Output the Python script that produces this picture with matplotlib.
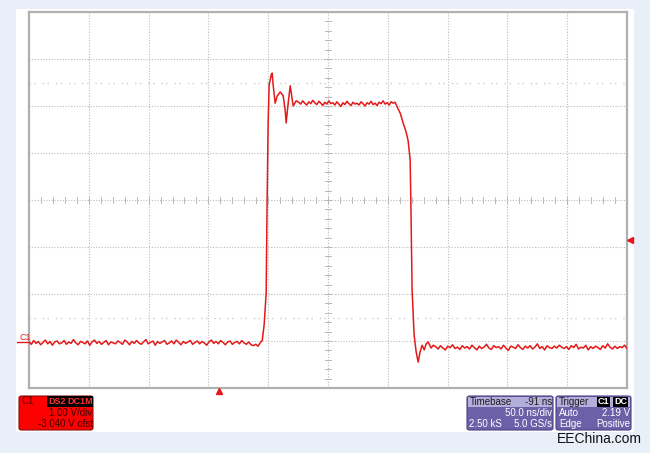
import numpy as np
import matplotlib.pyplot as plt
from matplotlib.patches import Rectangle, FancyBboxPatch
from matplotlib.lines import Line2D

W, H = 650, 453

# scope settings shown on screen
volts_per_div = 1.00
offset_v = -3.040
ns_per_div = 50.0
delay_ns = -91.0
trig_level = 2.19
n_samples = "2.50 kS"
sample_rate = "5.0 GS/s"

# trace (ns relative to trigger, volts)
base_left_v = [0.02, -0.03, 0.05, -0.01, 0.03, -0.04, 0.01, 0.06, -0.02, 0.03,
               -0.05, 0.02, 0.04, -0.02, 0.00, 0.05, -0.03, 0.02, -0.01, 0.07,
               0.00, -0.04, 0.03, 0.01, -0.02, 0.04, -0.05, 0.02, 0.06, -0.01,
               0.03, -0.03, 0.01, 0.05, -0.04, 0.02, 0.00, -0.02, 0.04, 0.01,
               -0.03, 0.06, 0.02, -0.04, 0.03, -0.01, 0.05, 0.00, -0.03, 0.02,
               0.07, -0.02, 0.01, 0.04, -0.05, 0.03, -0.01, 0.02, 0.05, -0.03,
               0.00, 0.04, -0.02, 0.06, 0.01, -0.04, 0.03, -0.01, 0.02, 0.05,
               -0.03, 0.01, 0.04, -0.02, 0.03, 0.00, -0.05, 0.02, 0.06, -0.01,
               0.03, -0.02, 0.05, 0.01, -0.04, 0.02, 0.04, -0.03, 0.01, 0.03,
               -0.02, 0.05, 0.00, -0.03, 0.02, -0.04, -0.06, -0.03, -0.07, 0.01]
rise_t = [36.0, 37.6, 39.3, 40.1, 41.0, 41.8, 43.5, 44.3, 45.1, 46.8, 48.5, 51.0, 53.5, 55.2,
          56.0, 57.7, 59.4, 61.0, 61.9, 64.4]
rise_v = [0.05, 0.38, 1.06, 3.04, 4.74, 5.49, 5.70, 5.74, 5.50, 5.10, 5.25, 5.34, 5.26, 4.95,
          4.68, 5.10, 5.47, 5.20, 5.04, 5.15]
top_v = [5.12, 5.08, 5.15, 5.10, 5.06, 5.13, 5.09, 5.16, 5.11, 5.07,
         5.14, 5.10, 5.05, 5.12, 5.08, 5.15, 5.09, 5.11, 5.06, 5.13,
         5.08, 5.03, 5.11, 5.07, 5.14, 5.09, 5.05, 5.12, 5.08, 5.10,
         5.06, 5.13, 5.09, 5.04, 5.11, 5.08, 5.14, 5.07, 5.10, 5.05,
         5.12, 5.09, 5.15, 5.08, 5.11, 5.06, 5.13, 5.10]
fall_t = [147.1, 149.6, 151.5, 153.8, 156.3, 158.0, 159.7, 160.5, 161.3, 163.0, 164.7, 166.4,
          168.0, 169.7, 171.4, 173.1, 174.7, 177.2, 179.0]
fall_v = [5.12, 4.98, 4.88, 4.68, 4.49, 4.30, 3.89, 2.61, 1.13, 0.17, -0.19, -0.41,
          -0.19, -0.05, -0.15, -0.02, 0.02, -0.11, -0.05]
base_right_v = [-0.08, -0.13, -0.06, -0.11, -0.15, -0.07, -0.10, -0.04, -0.12, -0.09,
                -0.14, -0.06, -0.11, -0.08, -0.13, -0.05, -0.10, -0.15, -0.07, -0.12,
                -0.09, -0.03, -0.11, -0.14, -0.06, -0.10, -0.08, -0.13, -0.05, -0.11,
                -0.16, -0.07, -0.09, -0.12, -0.04, -0.10, -0.14, -0.07, -0.11, -0.06,
                -0.13, -0.09, -0.02, -0.12, -0.08, -0.15, -0.06, -0.10, -0.12, -0.07,
                -0.11, -0.05, -0.09, -0.12, -0.08, -0.14, -0.06, -0.10, -0.03, -0.13,
                -0.09, -0.11, -0.05, -0.15, -0.08, -0.12, -0.07, -0.10, -0.14, -0.06,
                -0.11, -0.02, -0.09, -0.13, -0.07, -0.12, -0.08, -0.10, -0.05, -0.12]

base_left_t = np.linspace(-159, 34.5, len(base_left_v))
top_t = np.linspace(66.5, 145.5, len(top_v))
base_right_t = np.linspace(181, 341, len(base_right_v))

t = np.concatenate([base_left_t, rise_t, top_t, fall_t, base_right_t])
v = np.concatenate([base_left_v, rise_v, top_v, fall_v, base_right_v])


def fx(x):
    return x / W


def fy(y):
    return 1 - y / H


plt.rcParams['font.family'] = ['Liberation Sans', 'DejaVu Sans']

fig = plt.figure(figsize=(6.5, 4.53), dpi=100, facecolor='#e9eff9')
fig.add_artist(Rectangle((fx(16), fy(432)), 618 / W, 423 / H, transform=fig.transFigure,
                         facecolor='white', edgecolor='none', zorder=0))

ax = fig.add_axes([fx(29), fy(388), 598 / W, 376 / H])
xc = -delay_ns
yc = -offset_v
x0, x1 = xc - 5 * ns_per_div, xc + 5 * ns_per_div
y0, y1 = yc - 4 * volts_per_div, yc + 4 * volts_per_div
ax.set_xlim(x0, x1)
ax.set_ylim(y0, y1)
ax.set_xticks([])
ax.set_yticks([])
for s in ax.spines.values():
    s.set_color('#b0b0b0')
    s.set_linewidth(1.6)

grid_kw = dict(color='#bcbcbc', ls=(0, (1, 1.5)), lw=0.8, zorder=1)
for k in range(1, 10):
    ax.axvline(x0 + k * ns_per_div, **grid_kw)
for k in range(1, 8):
    ax.axhline(y0 + k * volts_per_div, **grid_kw)
# half division cursor rows
for k in [1.5, 6.5]:
    ax.axhline(y0 + k * volts_per_div, color='#cccccc', ls=(0, (1, 2.5, 1, 5)), lw=1.0, zorder=1)

# minor ticks on the centre cross
dv = 3 / 47 * volts_per_div
dt = 3 / 59.8 * ns_per_div
for k in range(-25, 26):
    tt = xc + k * ns_per_div / 5
    ax.plot([tt, tt], [yc - dv, yc + dv], color='#b8b8b8', lw=0.7, zorder=1)
for k in range(-20, 21):
    vv = yc + k * volts_per_div / 5
    ax.plot([xc - dt, xc + dt], [vv, vv], color='#b8b8b8', lw=0.7, zorder=1)

ax.plot(t, v, color='#e31a1a', lw=1.1, zorder=3)

# trigger markers
ax.plot([x1 + 2.6], [trig_level], marker='<', color='#e8141c', ms=5, clip_on=False, zorder=4)
ax.plot([0], [y0 - 0.07], marker='^', color='#e8141c', ms=5, clip_on=False, zorder=4)

# channel label
fig.text(fx(19), fy(337), 'C1', color='#e31a1a', fontsize=6.5, va='center', ha='left')
fig.add_artist(Line2D([fx(17), fx(29)], [fy(342), fy(342)], color='#e31a1a', lw=1.0,
                      transform=fig.transFigure))

fs = 7
# channel box
fig.add_artist(FancyBboxPatch((fx(19), fy(430)), 74 / W, 34 / H,
                              boxstyle='round,pad=0,rounding_size=0.004', transform=fig.transFigure,
                              facecolor='#ff0000', edgecolor='#8a1010', lw=0.8))
fig.text(fx(22), fy(401.5), 'C1', color='#5a0000', fontsize=fs, va='center')
fig.text(fx(48), fy(401.5), 'DS2', color='#ff3030', fontsize=fs - 0.5, va='center', fontweight='bold',
         bbox=dict(fc='black', ec='none', pad=0.5))
fig.text(fx(67), fy(401.5), 'DC1M', color='#ff3030', fontsize=fs - 0.5, va='center', fontweight='bold',
         bbox=dict(fc='black', ec='none', pad=0.5))
fig.text(fx(92), fy(413), f'{volts_per_div:.2f} V/div', color='#3a0000', fontsize=fs,
         va='center', ha='right')
fig.text(fx(93), fy(424), f'{offset_v:.3f} V ofst', color='#3a0000', fontsize=fs,
         va='center', ha='right')

# timebase box
fig.add_artist(FancyBboxPatch((fx(467), fy(430)), 86 / W, 34 / H,
                              boxstyle='round,pad=0,rounding_size=0.004', transform=fig.transFigure,
                              facecolor='#6c61a9', edgecolor='#4b4385', lw=0.8))
fig.add_artist(Rectangle((fx(468), fy(407)), 84 / W, 10 / H, transform=fig.transFigure,
                         facecolor='#b4aedb', edgecolor='none'))
fig.text(fx(470), fy(402), 'Timebase', color='#1e1e1e', fontsize=fs, va='center')
fig.text(fx(552), fy(402), f'{delay_ns:.0f} ns', color='#1e1e1e', fontsize=fs, va='center', ha='right')
fig.text(fx(552), fy(413), f'{ns_per_div:.1f} ns/div', color='white', fontsize=fs, va='center', ha='right')
fig.text(fx(469), fy(424), n_samples, color='white', fontsize=fs, va='center')
fig.text(fx(552), fy(424), sample_rate, color='white', fontsize=fs, va='center', ha='right')

# trigger box
fig.add_artist(FancyBboxPatch((fx(556), fy(430)), 75 / W, 34 / H,
                              boxstyle='round,pad=0,rounding_size=0.004', transform=fig.transFigure,
                              facecolor='#6c61a9', edgecolor='#4b4385', lw=0.8))
fig.add_artist(Rectangle((fx(557), fy(407)), 73 / W, 10 / H, transform=fig.transFigure,
                         facecolor='#b4aedb', edgecolor='none'))
fig.text(fx(559), fy(402), 'Trigger', color='#1e1e1e', fontsize=fs, va='center')
fig.text(fx(598), fy(402), 'C1', color='white', fontsize=fs - 0.5, va='center', fontweight='bold',
         bbox=dict(fc='black', ec='none', pad=0.5))
fig.text(fx(614), fy(402), 'DC', color='white', fontsize=fs - 0.5, va='center', fontweight='bold',
         bbox=dict(fc='black', ec='none', pad=0.5))
fig.text(fx(559), fy(413), 'Auto', color='white', fontsize=fs, va='center')
fig.text(fx(630), fy(413), f'{trig_level:.2f} V', color='white', fontsize=fs, va='center', ha='right')
fig.text(fx(559), fy(424), 'Edge', color='white', fontsize=fs, va='center')
fig.text(fx(630), fy(424), 'Positive', color='white', fontsize=fs, va='center', ha='right')

fig.text(fx(642), fy(439), 'EEChina.com', color='#111111', fontsize=10, va='center', ha='right')

fig.savefig('out.png', dpi=100, facecolor=fig.get_facecolor())
